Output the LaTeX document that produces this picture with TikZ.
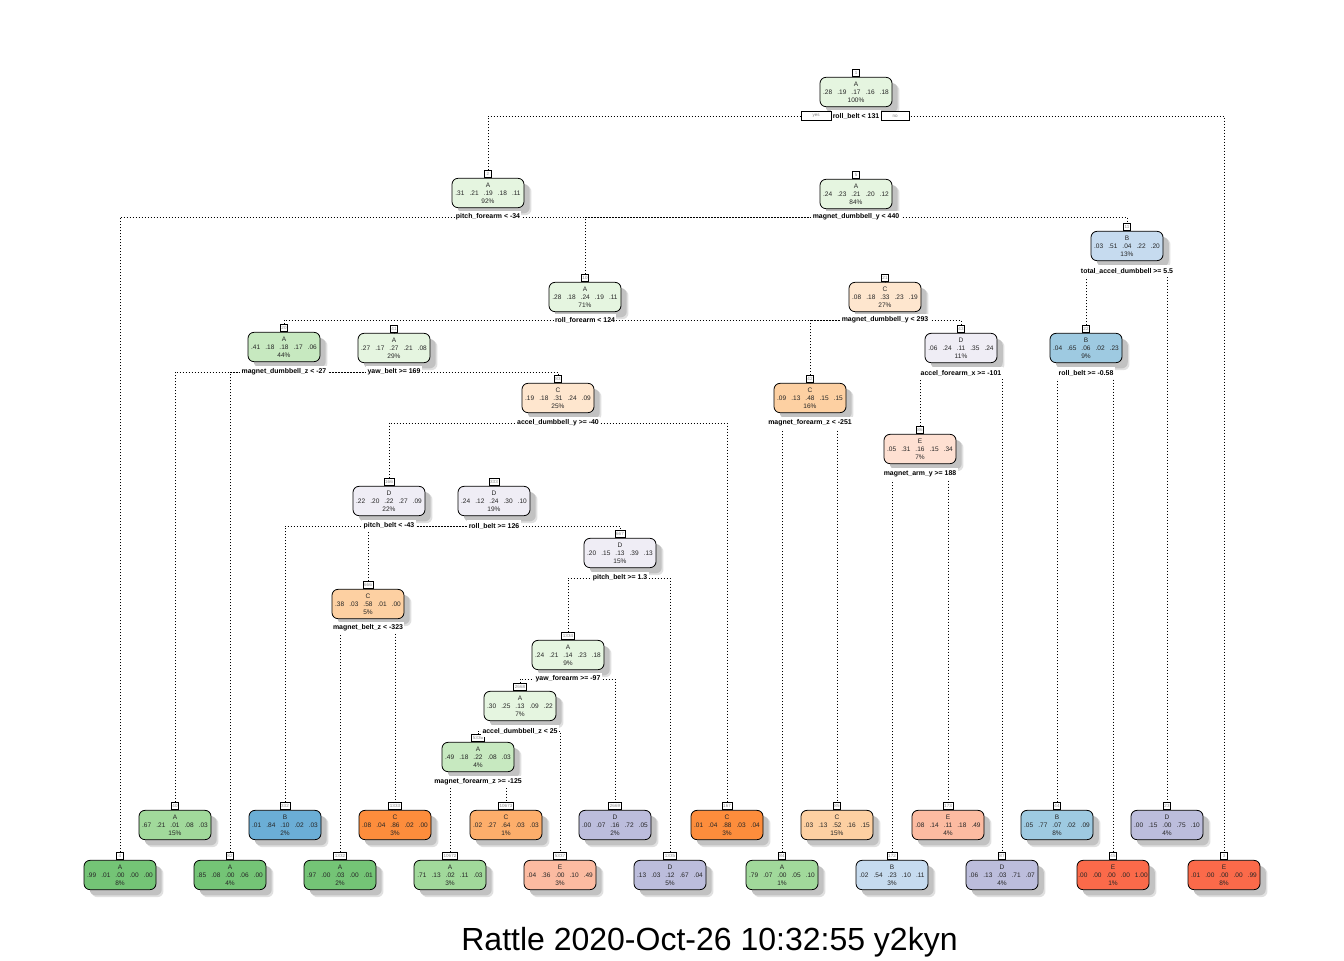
\documentclass[tikz,border=0pt]{standalone}
\usepackage{fontspec}
\setmainfont{Liberation Sans}
\usetikzlibrary{shadows}
\definecolor{G1}{HTML}{E5F5E0}
\definecolor{G2}{HTML}{C7E9C0}
\definecolor{G3}{HTML}{A1D99B}
\definecolor{G4}{HTML}{74C476}
\definecolor{B2}{HTML}{C6DBEF}
\definecolor{B3}{HTML}{9ECAE1}
\definecolor{B4}{HTML}{6BAED6}
\definecolor{O1}{HTML}{FEE6CE}
\definecolor{O2}{HTML}{FDD0A2}
\definecolor{O3}{HTML}{FDAE6B}
\definecolor{O4}{HTML}{FD8D3C}
\definecolor{P1}{HTML}{EFEDF5}
\definecolor{P2}{HTML}{BCBDDC}
\definecolor{R1}{HTML}{FEE0D2}
\definecolor{R2}{HTML}{FCBBA1}
\definecolor{R3}{HTML}{FB6A4A}
\newcommand{\gapp}{\hspace{3.8pt}}
\newcommand{\ndtxt}[7]{#1\\#2\gapp#3\gapp#4\gapp#5\gapp#6\\#7\%}
\pgfdeclarelayer{bglayer}
\pgfdeclarelayer{lines}
\pgfsetlayers{bglayer,lines,main}
\tikzset{
 tn/.style={draw=black, line width=0.6pt, rounded corners=4.5pt, minimum width=54pt, minimum height=22pt,
   inner sep=1pt, align=center, text=black!85, font=\fontsize{4.9}{5.9}\selectfont,
   drop shadow={shadow xshift=5.6pt, shadow yshift=-5.6pt, fill=black!12, opacity=1},
   drop shadow={shadow xshift=4.3pt, shadow yshift=-4.3pt, fill=black!24, opacity=1}},
 numbox/.style={draw=black, line width=0.5pt, fill=white, anchor=south, inner xsep=0.9pt, inner ysep=0.5pt,
   minimum width=5.2pt, minimum height=5.2pt, font=\fontsize{3.4}{3.4}\selectfont, text=black!45},
 split/.style={fill=white, inner xsep=1pt, inner ysep=2pt, font=\bfseries\fontsize{5.2}{6}\selectfont, text=black},
 branch/.style={line width=0.7pt, dash pattern=on 0.7pt off 1.55pt},
 yn/.style={draw=black, line width=0.5pt, fill=white, minimum height=6.5pt, inner sep=0pt,
   font=\fontsize{3.4}{3.4}\selectfont, text=black!50}
}
\begin{document}
\begin{tikzpicture}[x=0.75pt,y=-0.75pt]
\useasboundingbox (0,0) rectangle (1344,960);
\begin{pgfonlayer}{bglayer}
\fill[white] (0,0) rectangle (1344,960);
\end{pgfonlayer}

% ---------- internal nodes ----------
\node[tn,fill=G1] (n1) at (856,92) {\ndtxt{A}{.28}{.19}{.17}{.16}{.18}{100}};
\node[numbox] (n1num) at (n1.north) {1};
\node[tn,fill=G1] (n2) at (488,193) {\ndtxt{A}{.31}{.21}{.19}{.18}{.11}{92}};
\node[numbox] (n2num) at (n2.north) {2};
\node[tn,fill=G1] (n5) at (856,194) {\ndtxt{A}{.24}{.23}{.21}{.20}{.12}{84}};
\node[numbox] (n5num) at (n5.north) {5};
\node[tn,fill=G1] (n10) at (585,297) {\ndtxt{A}{.28}{.18}{.24}{.19}{.11}{71}};
\node[numbox] (n10num) at (n10.north) {10};
\node[tn,fill=B2] (n11) at (1127,246) {\ndtxt{B}{.03}{.51}{.04}{.22}{.20}{13}};
\node[numbox] (n11num) at (n11.north) {11};
\node[tn,fill=G2] (n20) at (284,347) {\ndtxt{A}{.41}{.18}{.18}{.17}{.06}{44}};
\node[numbox] (n20num) at (n20.north) {20};
\node[tn,fill=O1] (n21) at (885,297) {\ndtxt{C}{.08}{.18}{.33}{.23}{.19}{27}};
\node[numbox] (n21num) at (n21.north) {21};
\node[tn,fill=B3] (n22) at (1086,348) {\ndtxt{B}{.04}{.65}{.06}{.02}{.23}{9}};
\node[numbox] (n22num) at (n22.north) {22};
\node[tn,fill=G1] (n41) at (394,348) {\ndtxt{A}{.27}{.17}{.27}{.21}{.08}{29}};
\node[numbox] (n41num) at (n41.north) {41};
\node[tn,fill=O2] (n42) at (810,398) {\ndtxt{C}{.09}{.13}{.48}{.15}{.15}{16}};
\node[numbox] (n42num) at (n42.north) {42};
\node[tn,fill=P1] (n43) at (961,348) {\ndtxt{D}{.06}{.24}{.11}{.35}{.24}{11}};
\node[numbox] (n43num) at (n43.north) {43};
\node[tn,fill=O1] (n83) at (558,398) {\ndtxt{C}{.19}{.18}{.31}{.24}{.09}{25}};
\node[numbox] (n83num) at (n83.north) {83};
\node[tn,fill=R1] (n86) at (920,449) {\ndtxt{E}{.05}{.31}{.16}{.15}{.34}{7}};
\node[numbox] (n86num) at (n86.north) {86};
\node[tn,fill=P1] (n166) at (389,501) {\ndtxt{D}{.22}{.20}{.22}{.27}{.09}{22}};
\node[numbox] (n166num) at (n166.north) {166};
\node[tn,fill=P1] (n333) at (494,501) {\ndtxt{D}{.24}{.12}{.24}{.30}{.10}{19}};
\node[numbox] (n333num) at (n333.north) {333};
\node[tn,fill=O2] (n666) at (368,604) {\ndtxt{C}{.38}{.03}{.58}{.01}{.00}{5}};
\node[numbox] (n666num) at (n666.north) {666};
\node[tn,fill=P1] (n667) at (620,553) {\ndtxt{D}{.20}{.15}{.13}{.39}{.13}{15}};
\node[numbox] (n667num) at (n667.north) {667};
\node[tn,fill=G1] (n1334) at (568,655) {\ndtxt{A}{.24}{.21}{.14}{.23}{.18}{9}};
\node[numbox] (n1334num) at (n1334.north) {1334};
\node[tn,fill=G1] (n2668) at (520,706) {\ndtxt{A}{.30}{.25}{.13}{.09}{.22}{7}};
\node[numbox] (n2668num) at (n2668.north) {2668};
\node[tn,fill=G2] (n5336) at (478,757) {\ndtxt{A}{.49}{.18}{.22}{.08}{.03}{4}};
\node[numbox] (n5336num) at (n5336.north) {5336};

% ---------- leaves ----------
\node[tn,fill=G4] (n4) at (120,875) {\ndtxt{A}{.99}{.01}{.00}{.00}{.00}{8}};
\node[numbox] (n4num) at (n4.north) {4};
\node[tn,fill=G3] (n40) at (175,825) {\ndtxt{A}{.67}{.21}{.01}{.08}{.03}{15}};
\node[numbox] (n40num) at (n40.north) {40};
\node[tn,fill=G4] (n82) at (230,875) {\ndtxt{A}{.85}{.08}{.00}{.06}{.00}{4}};
\node[numbox] (n82num) at (n82.north) {82};
\node[tn,fill=B4] (n332) at (285,825) {\ndtxt{B}{.01}{.84}{.10}{.02}{.03}{2}};
\node[numbox] (n332num) at (n332.north) {332};
\node[tn,fill=G4] (n1332) at (340,875) {\ndtxt{A}{.97}{.00}{.03}{.00}{.01}{2}};
\node[numbox] (n1332num) at (n1332.north) {1332};
\node[tn,fill=O4] (n1333) at (395,825) {\ndtxt{C}{.08}{.04}{.86}{.02}{.00}{3}};
\node[numbox] (n1333num) at (n1333.north) {1333};
\node[tn,fill=G3] (n10672) at (450,875) {\ndtxt{A}{.71}{.13}{.02}{.11}{.03}{3}};
\node[numbox] (n10672num) at (n10672.north) {10672};
\node[tn,fill=O3] (n10673) at (506,825) {\ndtxt{C}{.02}{.27}{.64}{.03}{.03}{1}};
\node[numbox] (n10673num) at (n10673.north) {10673};
\node[tn,fill=R2] (n5337) at (560,875) {\ndtxt{E}{.04}{.36}{.00}{.10}{.49}{3}};
\node[numbox] (n5337num) at (n5337.north) {5337};
\node[tn,fill=P2] (n2669) at (615,825) {\ndtxt{D}{.00}{.07}{.16}{.72}{.05}{2}};
\node[numbox] (n2669num) at (n2669.north) {2669};
\node[tn,fill=P2] (n1335) at (670,875) {\ndtxt{D}{.13}{.03}{.12}{.67}{.04}{5}};
\node[numbox] (n1335num) at (n1335.north) {1335};
\node[tn,fill=O4] (n167) at (727,825) {\ndtxt{C}{.01}{.04}{.88}{.03}{.04}{3}};
\node[numbox] (n167num) at (n167.north) {167};
\node[tn,fill=G3] (n84) at (782,875) {\ndtxt{A}{.79}{.07}{.00}{.05}{.10}{1}};
\node[numbox] (n84num) at (n84.north) {84};
\node[tn,fill=O2] (n85) at (837,825) {\ndtxt{C}{.03}{.13}{.52}{.16}{.15}{15}};
\node[numbox] (n85num) at (n85.north) {85};
\node[tn,fill=B2] (n172) at (892,875) {\ndtxt{B}{.02}{.54}{.23}{.10}{.11}{3}};
\node[numbox] (n172num) at (n172.north) {172};
\node[tn,fill=R2] (n173) at (948,825) {\ndtxt{E}{.08}{.14}{.11}{.18}{.49}{4}};
\node[numbox] (n173num) at (n173.north) {173};
\node[tn,fill=P2] (n87) at (1002,875) {\ndtxt{D}{.06}{.13}{.03}{.71}{.07}{4}};
\node[numbox] (n87num) at (n87.north) {87};
\node[tn,fill=B3] (n44) at (1057,825) {\ndtxt{B}{.05}{.77}{.07}{.02}{.09}{8}};
\node[numbox] (n44num) at (n44.north) {44};
\node[tn,fill=R3] (n45) at (1113,875) {\ndtxt{E}{.00}{.00}{.00}{.00}{1.00}{1}};
\node[numbox] (n45num) at (n45.north) {45};
\node[tn,fill=P2] (n23) at (1167,825) {\ndtxt{D}{.00}{.15}{.00}{.75}{.10}{4}};
\node[numbox] (n23num) at (n23.north) {23};
\node[tn,fill=R3] (n3) at (1224,875) {\ndtxt{E}{.01}{.00}{.00}{.00}{.99}{8}};
\node[numbox] (n3num) at (n3.north) {3};

% ---------- split labels ----------
\node[split] (s1) at (856,116) {roll\_belt < 131};
\node[yn, anchor=east, minimum width=22pt] (yes) at (s1.west) {yes};
\node[yn, anchor=west, minimum width=21pt] (no) at (s1.east) {no};
\node[split] (s2) at (488,217) {pitch\_forearm < -34};
\node[split] (s5) at (856,217) {magnet\_dumbbell\_y < 440};
\node[split] (s10) at (585,320) {roll\_forearm < 124};
\node[split] (s11) at (1127,271) {total\_accel\_dumbbell >= 5.5};
\node[split] (s20) at (284,372) {magnet\_dumbbell\_z < -27};
\node[split] (s21) at (885,320) {magnet\_dumbbell\_y < 293};
\node[split] (s22) at (1086,373) {roll\_belt >= -0.58};
\node[split] (s41) at (394,372) {yaw\_belt >= 169};
\node[split] (s42) at (810,423) {magnet\_forearm\_z < -251};
\node[split] (s43) at (961,373) {accel\_forearm\_x >= -101};
\node[split] (s83) at (558,423) {accel\_dumbbell\_y >= -40};
\node[split] (s86) at (920,474) {magnet\_arm\_y >= 188};
\node[split] (s166) at (389,526) {pitch\_belt < -43};
\node[split] (s333) at (494,526) {roll\_belt >= 126};
\node[split] (s666) at (368,628) {magnet\_belt\_z < -323};
\node[split] (s667) at (620,578) {pitch\_belt >= 1.3};
\node[split] (s1334) at (568,679) {yaw\_forearm >= -97};
\node[split] (s2668) at (520,731) {accel\_dumbbell\_z < 25};
\node[split] (s5336) at (478,782) {magnet\_forearm\_z >= -125};

% ---------- branches ----------
\begin{pgfonlayer}{lines}
\draw[branch] (n2num.north) |- (s1.center) -| (n3num.north);
\draw[branch] (n4num.north) |- (s2.center) -| (n5num.north);
\draw[branch] (n10num.north) |- (s5.center) -| (n11num.north);
\draw[branch] (n20num.north) |- (s10.center) -| (n21num.north);
\draw[branch] (n22num.north) |- (s11.center) -| (n23num.north);
\draw[branch] (n40num.north) |- (s20.center) -| (n41num.north);
\draw[branch] (n42num.north) |- (s21.center) -| (n43num.north);
\draw[branch] (n44num.north) |- (s22.center) -| (n45num.north);
\draw[branch] (n82num.north) |- (s41.center) -| (n83num.north);
\draw[branch] (n84num.north) |- (s42.center) -| (n85num.north);
\draw[branch] (n86num.north) |- (s43.center) -| (n87num.north);
\draw[branch] (n166num.north) |- (s83.center) -| (n167num.north);
\draw[branch] (n172num.north) |- (s86.center) -| (n173num.north);
\draw[branch] (n332num.north) |- (s166.center) -| (n333num.north);
\draw[branch] (n666num.north) |- (s333.center) -| (n667num.north);
\draw[branch] (n1332num.north) |- (s666.center) -| (n1333num.north);
\draw[branch] (n1334num.north) |- (s667.center) -| (n1335num.north);
\draw[branch] (n2668num.north) |- (s1334.center) -| (n2669num.north);
\draw[branch] (n5336num.north) |- (s2668.center) -| (n5337num.north);
\draw[branch] (n10672num.north) |- (s5336.center) -| (n10673num.north);
\end{pgfonlayer}

% ---------- title ----------
\node[font=\fontsize{24}{28}\selectfont, anchor=base, inner sep=0pt] (title) at (709.5,950) {Rattle 2020-Oct-26 10:32:55 y2kyn};
\end{tikzpicture}
\end{document}
